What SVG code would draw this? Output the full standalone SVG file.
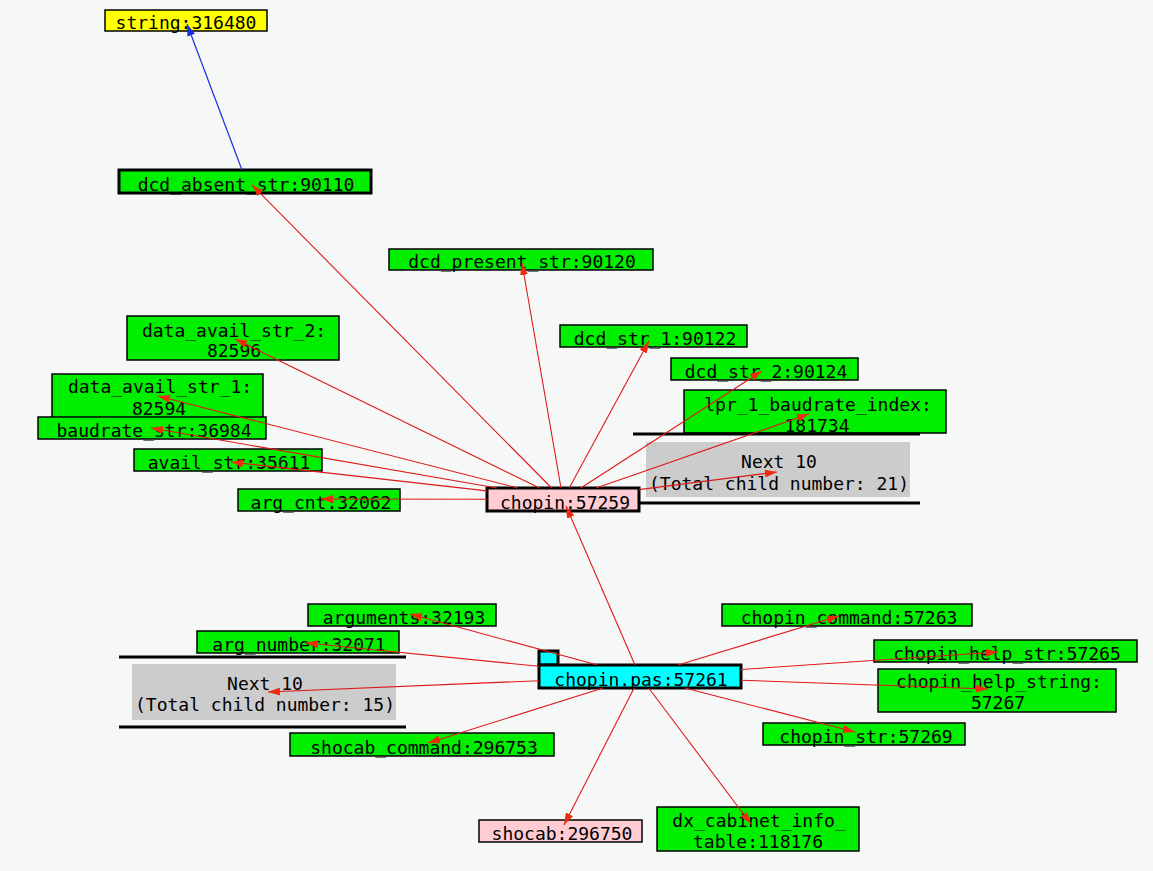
<svg xmlns="http://www.w3.org/2000/svg" width="1153" height="871" viewBox="0 0 1153 871">
<style>
.n{stroke:#000;stroke-width:1.5}
.t{stroke:#000;stroke-width:3}
.g{fill:#00ee00}
.p{fill:#ffccd4}
.c{fill:#00ffff}
.y{fill:#ffff00}
.gr{fill:#cccccc;stroke:none}
.bar{stroke:#000;stroke-width:3}
text{font-family:"DejaVu Sans Mono","Liberation Mono",monospace;font-size:18px;fill:#000;text-anchor:middle}
.e{stroke:#e01818;stroke-width:1.1;fill:none;marker-end:url(#ar)}
.b{stroke:#1a2ee0;stroke-width:1.2;fill:none;marker-end:url(#ab)}
</style>
<defs>
<marker id="ar" markerUnits="userSpaceOnUse" markerWidth="12" markerHeight="8" refX="12" refY="4" orient="auto"><path d="M0,0 L12,4 L0,8 z" fill="#f02a10"/></marker>
<marker id="ab" markerUnits="userSpaceOnUse" markerWidth="12" markerHeight="8" refX="12" refY="4" orient="auto"><path d="M0,0 L12,4 L0,8 z" fill="#1a2ee0"/></marker>
</defs>
<rect width="1153" height="871" fill="#f6f8f8"/>

<g id="n-string"><rect class="n y" x="105" y="10" width="162" height="21"/><text x="186" y="29">string:316480</text></g>
<g id="n-dcd-absent"><rect class="t g" x="119" y="170" width="252" height="23"/><text x="246" y="191">dcd_absent_str:90110</text></g>
<g id="n-dcd-present"><rect class="n g" x="389" y="249" width="264" height="21"/><text x="522" y="268">dcd_present_str:90120</text></g>
<g id="n-dcd-str-1"><rect class="n g" x="560" y="325" width="187" height="22"/><text x="655" y="345">dcd_str_1:90122</text></g>
<g id="n-dcd-str-2"><rect class="n g" x="671" y="358" width="187" height="22"/><text x="766" y="378">dcd_str_2:90124</text></g>
<g id="n-lpr"><rect class="n g" x="684" y="390" width="262" height="43"/><text x="818" y="411">lpr_1_baudrate_index:</text><text x="817" y="432">181734</text></g>
<g id="n-next21"><line class="bar" x1="633" y1="434" x2="920" y2="434"/><line class="bar" x1="633" y1="503" x2="920" y2="503"/><rect class="gr" x="646" y="442" width="264" height="55"/><text x="779" y="468">Next 10</text><text x="779" y="490">(Total child number: 21)</text></g>
<g id="n-data-avail-2"><rect class="n g" x="127" y="316" width="212" height="44"/><text x="234" y="337">data_avail_str_2:</text><text x="234" y="357">82596</text></g>
<g id="n-data-avail-1"><rect class="n g" x="52" y="374" width="211" height="44"/><text x="160" y="393">data_avail_str_1:</text><text x="159" y="415">82594</text></g>
<g id="n-baudrate"><rect class="n g" x="38" y="417" width="228" height="22"/><text x="154" y="437">baudrate_str:36984</text></g>
<g id="n-avail"><rect class="n g" x="134" y="449" width="188" height="22"/><text x="229" y="469">avail_str:35611</text></g>
<g id="n-arg-cnt"><rect class="n g" x="238" y="489" width="162" height="22"/><text x="321" y="509">arg_cnt:32062</text></g>
<g id="n-chopin"><rect class="t p" x="487" y="488" width="152" height="23"/><text x="565" y="509">chopin:57259</text></g>

<g id="n-arguments"><rect class="n g" x="308" y="604" width="188" height="22"/><text x="404" y="624">arguments:32193</text></g>
<g id="n-arg-number"><rect class="n g" x="197" y="631" width="202" height="22"/><text x="299" y="651">arg_number:32071</text></g>
<g id="n-next15"><line class="bar" x1="119" y1="657" x2="406" y2="657"/><line class="bar" x1="119" y1="727" x2="406" y2="727"/><rect class="gr" x="132" y="664" width="264" height="56"/><text x="265" y="690">Next 10</text><text x="265" y="711">(Total child number: 15)</text></g>
<g id="n-shocab-command"><rect class="n g" x="290" y="733" width="264" height="23"/><text x="424" y="754">shocab_command:296753</text></g>
<g id="n-shocab"><rect class="n p" x="479" y="820" width="163" height="22"/><text x="562" y="840">shocab:296750</text></g>
<g id="n-dx-cabinet"><rect class="n g" x="657" y="807" width="202" height="44"/><text x="759" y="827">dx_cabinet_info_</text><text x="758" y="848">table:118176</text></g>
<g id="n-chopin-command"><rect class="n g" x="722" y="604" width="250" height="22"/><text x="849" y="624">chopin_command:57263</text></g>
<g id="n-chopin-help-str"><rect class="n g" x="874" y="640" width="263" height="22"/><text x="1007" y="660">chopin_help_str:57265</text></g>
<g id="n-chopin-help-string"><rect class="n g" x="878" y="669" width="238" height="43"/><text x="999" y="688">chopin_help_string:</text><text x="998" y="709">57267</text></g>
<g id="n-chopin-str"><rect class="n g" x="763" y="723" width="202" height="22"/><text x="866" y="743">chopin_str:57269</text></g>
<g id="n-chopin-pas"><rect class="t c" x="539" y="651" width="19" height="14"/><rect class="t c" x="539" y="665" width="202" height="23"/><text x="641" y="686">chopin.pas:57261</text></g>

<g id="connectors">
<line class="b" x1="242" y1="170" x2="187" y2="24"/>
<line class="e" x1="551.6" y1="488" x2="252" y2="185"/>
<line class="e" x1="561" y1="488" x2="522" y2="263"/>
<line class="e" x1="569.2" y1="488" x2="649" y2="341"/>
<line class="e" x1="580.8" y1="488" x2="762" y2="371"/>
<line class="e" x1="596.2" y1="488" x2="809" y2="414"/>
<line class="e" x1="639" y1="489.6" x2="777" y2="472"/>
<line class="e" x1="539.5" y1="488" x2="235" y2="339"/>
<line class="e" x1="517.8" y1="488" x2="158" y2="396"/>
<line class="e" x1="497" y1="488" x2="151" y2="428"/>
<line class="e" x1="487" y1="490.9" x2="231" y2="462"/>
<line class="e" x1="487" y1="499.3" x2="321" y2="499"/>
<line class="e" x1="635" y1="665" x2="566" y2="506"/>
<line class="e" x1="597.4" y1="665" x2="410" y2="614"/>
<line class="e" x1="539" y1="666.3" x2="306" y2="643"/>
<line class="e" x1="539" y1="680.7" x2="268" y2="692"/>
<line class="e" x1="603" y1="688" x2="428" y2="743"/>
<line class="e" x1="634.1" y1="688" x2="564" y2="825"/>
<line class="e" x1="648.7" y1="688" x2="751" y2="824"/>
<line class="e" x1="678" y1="665" x2="839" y2="616"/>
<line class="e" x1="741" y1="669.5" x2="998" y2="652"/>
<line class="e" x1="741" y1="680.2" x2="988" y2="689"/>
<line class="e" x1="685" y1="688" x2="855" y2="732"/>
</g>
</svg>
